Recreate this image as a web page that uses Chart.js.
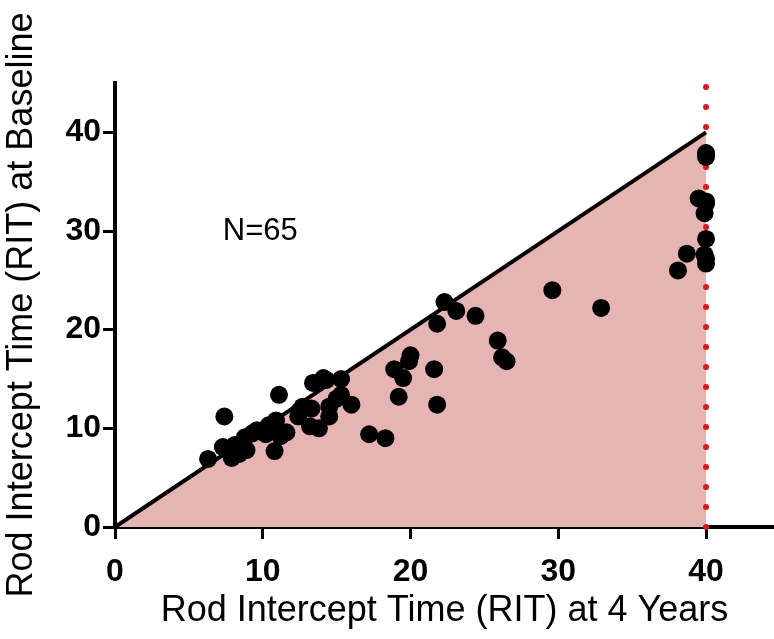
<!DOCTYPE html>
<html>
<head>
<meta charset="utf-8">
<script src="https://cdn.jsdelivr.net/npm/chart.js@4/dist/chart.umd.min.js"></script>
<style>
  html, body { margin: 0; padding: 0; background: #fff; }
  #wrap { width: 774px; height: 639px; }
</style>
</head>
<body>
<div id="wrap"><canvas id="rit-chart" width="774" height="639"></canvas></div>
<script>
(function() {

  // RIT at 4 years (x) vs RIT at baseline (y), one pair per eye
  var ritFourYears = [
    6.3, 7.4, 7.3, 7.9, 8.1, 8.4, 8.9, 8.8, 9.3, 9.6, 10.0, 10.4, 10.9, 10.8, 10.9, 11.2, 11.6, 11.1, 10.6,
    12.4, 12.7, 12.5, 13.2, 13.4, 13.3, 14.1, 14.5, 14.5, 15.3, 15.3, 15.0, 16.0, 13.8, 14.3,
    17.2, 18.3, 18.9, 19.5, 19.2, 19.9, 20.0, 21.6, 21.8, 21.8, 22.3, 23.1, 24.4, 25.9, 26.2, 26.5,
    29.6, 32.9, 38.1, 38.7, 39.5, 40.0, 40.0, 39.9, 40.0, 39.9, 40.0, 40.0, 40.0, 40.0, 10.2
  ];
  var ritBaseline = [
    6.9, 11.2, 8.1, 7.0, 8.3, 7.4, 7.8, 9.1, 9.5, 9.8, 9.7, 10.3, 10.8, 7.7, 9.7, 9.2, 9.6, 13.4, 10.2,
    11.2, 12.2, 11.8, 10.2, 14.6, 12.0, 15.1, 12.2, 11.2, 15.0, 13.4, 13.0, 12.4, 10.0, 14.9,
    9.4, 9.0, 16.0, 15.1, 13.2, 16.8, 17.4, 16.0, 12.4, 20.6, 22.8, 21.9, 21.4, 18.9, 17.2, 16.8,
    24.0, 22.2, 26.0, 27.7, 33.3, 37.5, 32.8, 31.8, 29.2, 27.6, 26.7, 37.9, 33.0, 27.2, 9.4
  ];

  var identityLine = [{ x: 0, y: 0 }, { x: 40, y: 40 }];
  var ceilingLine = [{ x: 40, y: 0 }, { x: 40, y: 45 }];
  var tickValues = [0, 10, 20, 30, 40];
  var xTitle = 'Rod Intercept Time (RIT) at 4 Years';
  var yTitle = 'Rod Intercept Time (RIT) at Baseline';
  var sampleLabel = 'N=65';

  var points = ritFourYears.map(function(x, i) {
    return { x: x, y: ritBaseline[i] };
  });

  var fontFamily = '"Liberation Sans", Arial, Helvetica, sans-serif';

  var noteText = {
    id: 'noteText',
    afterDatasetsDraw: function(chart) {
      var ctx = chart.ctx;
      var xs = chart.scales.x, ys = chart.scales.y;
      ctx.save();
      ctx.fillStyle = '#000';
      ctx.font = '31px ' + fontFamily;
      ctx.textAlign = 'left';
      ctx.textBaseline = 'middle';
      ctx.fillText(sampleLabel, xs.getPixelForValue(7.3), ys.getPixelForValue(30));
      ctx.restore();
    }
  };

  var ctx = document.getElementById('rit-chart').getContext('2d');
  new Chart(ctx, {
    type: 'scatter',
    data: {
      datasets: [
        {
          data: points,
          backgroundColor: '#000',
          borderWidth: 0,
          pointRadius: 9,
          order: 0
        },
        {
          type: 'line',
          data: ceilingLine,
          borderColor: '#d7191c',
          borderWidth: 6,
          borderDash: [0, 20],
          borderCapStyle: 'round',
          pointRadius: 0,
          fill: false,
          clip: false,
          order: 1
        },
        {
          type: 'line',
          data: identityLine,
          borderColor: '#000',
          borderWidth: 4,
          backgroundColor: '#e7b4b4',
          pointRadius: 0,
          fill: 'origin',
          order: 2
        }
      ]
    },
    options: {
      responsive: false,
      animation: false,
      layout: {
        autoPadding: false,
        padding: { top: 83, right: 0, bottom: 0, left: 0 }
      },
      plugins: {
        legend: { display: false },
        tooltip: { enabled: false }
      },
      scales: {
        x: {
          type: 'linear',
          min: 0,
          max: 44.6,
          afterBuildTicks: function(scale) {
            scale.ticks = tickValues.map(function(v) { return { value: v }; });
          },
          afterFit: function(scale) {
            scale.height = 112;
            scale.paddingLeft = 0;
            scale.paddingRight = 0;
          },
          border: { display: true, color: '#000', width: 4 },
          grid: {
            display: true,
            drawOnChartArea: false,
            drawTicks: true,
            tickLength: 12,
            tickWidth: 3,
            color: '#000'
          },
          ticks: {
            color: '#000',
            padding: 14,
            maxRotation: 0,
            font: { family: fontFamily, size: 32, weight: 'bold' }
          },
          title: {
            display: true,
            text: xTitle,
            color: '#000',
            padding: { top: 0, bottom: 6 },
            font: { family: fontFamily, size: 36 }
          }
        },
        y: {
          type: 'linear',
          min: 0,
          max: 45,
          afterBuildTicks: function(scale) {
            scale.ticks = tickValues.map(function(v) { return { value: v }; });
          },
          afterFit: function(scale) { scale.width = 115; },
          border: { display: true, color: '#000', width: 4 },
          grid: {
            display: true,
            drawOnChartArea: false,
            drawTicks: true,
            tickLength: 12,
            tickWidth: 3,
            color: '#000'
          },
          ticks: {
            color: '#000',
            padding: 2,
            font: { family: fontFamily, size: 32, weight: 'bold' }
          },
          title: {
            display: true,
            text: yTitle,
            color: '#000',
            padding: { top: 0, bottom: 0 },
            font: { family: fontFamily, size: 36 }
          }
        }
      }
    },
    plugins: [noteText]
  });

})();
</script>
</body>
</html>
